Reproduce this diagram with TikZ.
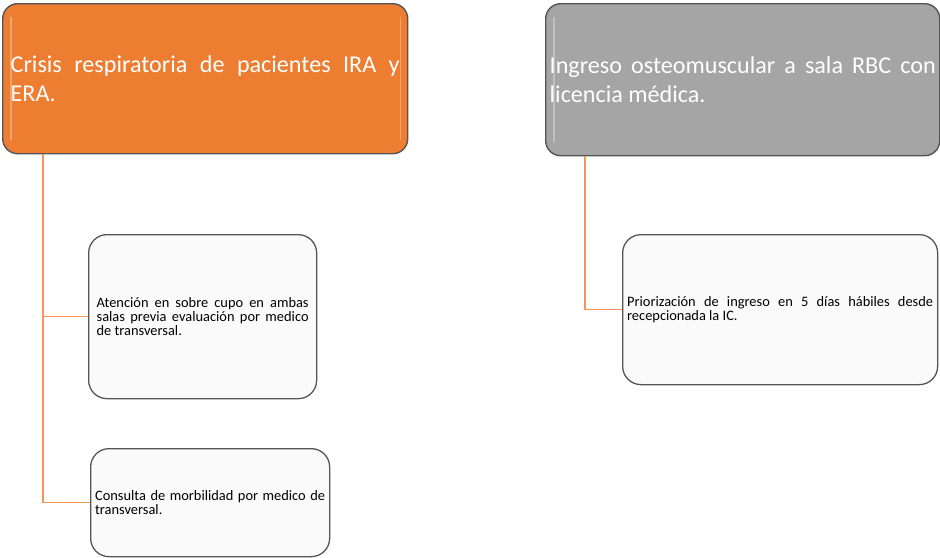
\documentclass[tikz,border=0pt]{standalone}
\usepackage{fontspec}
\setmainfont{Carlito}
\usetikzlibrary{calc}

\hyphenpenalty=10000
\exhyphenpenalty=10000
\tolerance=9999
\emergencystretch=2em

\definecolor{hdrOrange}{HTML}{ED7D31}
\definecolor{hdrGray}{HTML}{A5A5A5}
\definecolor{edgeGray}{HTML}{555555}
\definecolor{linkOrange}{HTML}{F4955A}
\definecolor{boxFill}{HTML}{FAFAFA}

\begin{document}
\begin{tikzpicture}[
        x=0.03cm, y=-0.03cm,
        headBox/.style={draw=edgeGray, line width=1.2pt, rounded corners=0.45cm, anchor=north west,
            text=white, align=justify, inner sep=0pt, font=\fontsize{20.6}{25.5}\selectfont},
        itemBox/.style={draw=edgeGray, line width=1.1pt, fill=boxFill, rounded corners=0.55cm, anchor=north west,
            text=black, align=justify, inner sep=0pt, font=\fontsize{12.3}{12.1}\selectfont},
        branchLine/.style={linkOrange, line width=1.3pt},
        bevelLine/.style={white, opacity=0.3, line width=1pt}
    ]
        \useasboundingbox (0,0) rectangle (940,558);

        % Headers
        \node[headBox, fill=hdrOrange, minimum width=12.15cm, minimum height=4.5cm, text width=11.67cm]
            (crisis) at (2,3) {Crisis respiratoria de pacientes IRA y ERA.};
        \node[headBox, fill=hdrGray, minimum width=11.82cm, minimum height=4.56cm, text width=11.58cm]
            (ingreso) at (545,3) {Ingreso osteomuscular a sala RBC con licencia médica.};

        % light bevel at the sides of the headers
        \draw[bevelLine] ($(crisis.north west)+(9,14)$) -- ($(crisis.south west)+(9,-14)$);
        \draw[bevelLine] ($(crisis.north east)+(-8,14)$) -- ($(crisis.south east)+(-8,-14)$);
        \draw[bevelLine] ($(ingreso.north west)+(9,14)$) -- ($(ingreso.south west)+(9,-14)$);

        % Items
        \node[itemBox, minimum width=6.84cm, minimum height=4.92cm, text width=6.36cm]
            (atencion) at (88,234) {Atención en sobre cupo en ambas salas previa evaluación por medico de transversal.};
        \node[itemBox, minimum width=7.17cm, minimum height=3.24cm, text width=6.9cm]
            (consulta) at (90,448) {Consulta de morbilidad por medico de transversal.};
        \node[itemBox, minimum width=9.45cm, minimum height=4.5cm, text width=9.18cm]
            (priorizacion) at (622,234) {Priorización de ingreso en 5 días hábiles desde recepcionada la IC.};

        % Branches
        \coordinate (crisisRoot) at ($(crisis.south west)+(41,0)$);
        \coordinate (ingresoRoot) at ($(ingreso.south west)+(40,0)$);
        \draw[branchLine] (crisisRoot) |- (atencion.west);
        \draw[branchLine] (crisisRoot) |- (consulta.west);
        \draw[branchLine] (ingresoRoot) |- (priorizacion.west);

    \end{tikzpicture}
\end{document}
